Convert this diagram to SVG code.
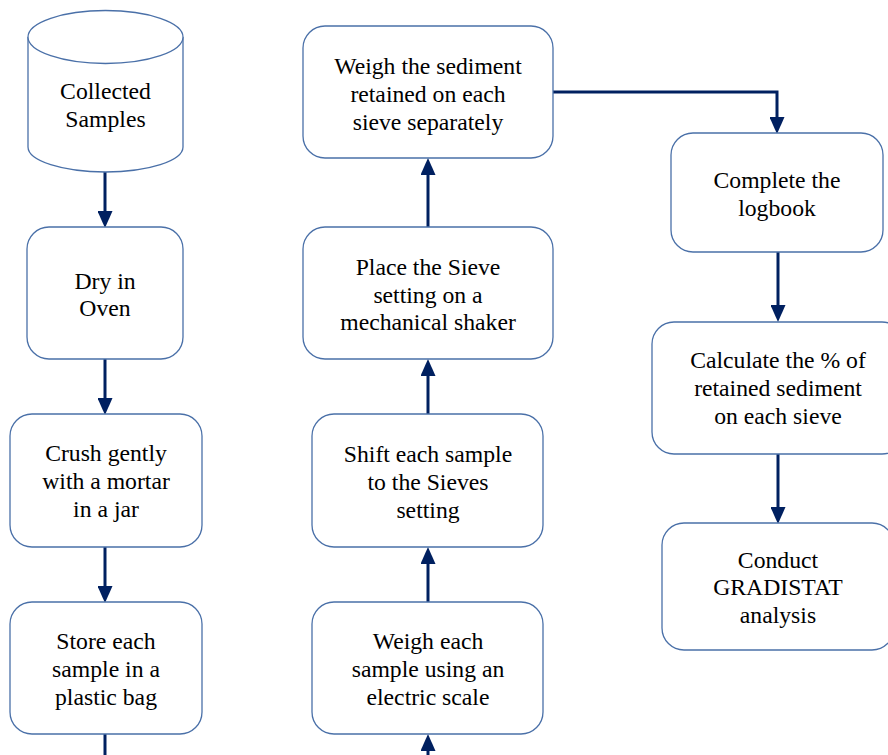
<svg xmlns="http://www.w3.org/2000/svg" width="888" height="755" viewBox="0 0 888 755">
<defs>
<style>
.n{fill:#fff;stroke:#4a70a8;stroke-width:1.3}
.t{font-family:'Liberation Serif','Times New Roman','DejaVu Serif',serif;font-size:23.7px;fill:#000;text-anchor:middle}
.c{fill:none;stroke:#002060;stroke-width:3}
</style>
<marker id="ah" markerUnits="userSpaceOnUse" markerWidth="17" markerHeight="15" refX="6" refY="7.5" orient="auto" viewBox="0 0 17 15">
<path d="M0,0 L17,7.5 L0,15 z" fill="#002060"/>
</marker>
</defs>
<rect width="888" height="755" fill="#fff"/>
<g id="connectors">
<line class="c" x1="105" y1="172" x2="105" y2="217" marker-end="url(#ah)"/>
<line class="c" x1="105" y1="359" x2="105" y2="404" marker-end="url(#ah)"/>
<line class="c" x1="105" y1="547" x2="105" y2="592" marker-end="url(#ah)"/>
<line class="c" x1="105" y1="734" x2="105" y2="760"/>
<line class="c" x1="428" y1="760" x2="428" y2="745" marker-end="url(#ah)"/>
<line class="c" x1="428" y1="602" x2="428" y2="558" marker-end="url(#ah)"/>
<line class="c" x1="428" y1="414" x2="428" y2="370" marker-end="url(#ah)"/>
<line class="c" x1="428" y1="227" x2="428" y2="169" marker-end="url(#ah)"/>
<polyline class="c" points="553,92 777,92 777,123" marker-end="url(#ah)"/>
<line class="c" x1="778" y1="252" x2="778" y2="311" marker-end="url(#ah)"/>
<line class="c" x1="778" y1="454" x2="778" y2="513" marker-end="url(#ah)"/>
</g>
<g font-family="Liberation Serif, Times New Roman, serif">
<g id="collected">
<path class="n" d="M28,37 A77.5,26.5 0 0 1 183,37 L183,147 A77.5,25 0 0 1 28,147 Z"/>
<path class="n" d="M28,37 A77.5,26.5 0 0 0 183,37" fill="none"/>
<text class="t" x="105.5" y="99">Collected</text>
<text class="t" x="105.5" y="127">Samples</text>
</g>
<g id="dry">
<rect class="n" x="27" y="227" width="156" height="132" rx="22"/>
<text class="t" x="105" y="289">Dry in</text>
<text class="t" x="105" y="316">Oven</text>
</g>
<g id="crush">
<rect class="n" x="10" y="414" width="192" height="133" rx="22"/>
<text class="t" x="106" y="461">Crush gently</text>
<text class="t" x="106" y="489">with a mortar</text>
<text class="t" x="106" y="517">in a jar</text>
</g>
<g id="store">
<rect class="n" x="10" y="602" width="192" height="132" rx="22"/>
<text class="t" x="106" y="649">Store each</text>
<text class="t" x="106" y="677">sample in a</text>
<text class="t" x="106" y="705">plastic bag</text>
</g>
<g id="weigh-each">
<rect class="n" x="312" y="602" width="231" height="132" rx="22"/>
<text class="t" x="428" y="649">Weigh each</text>
<text class="t" x="428" y="677">sample using an</text>
<text class="t" x="428" y="705">electric scale</text>
</g>
<g id="shift">
<rect class="n" x="312" y="414" width="231" height="133" rx="22"/>
<text class="t" x="428" y="462">Shift each sample</text>
<text class="t" x="428" y="490">to the Sieves</text>
<text class="t" x="428" y="518">setting</text>
</g>
<g id="place">
<rect class="n" x="303" y="227" width="250" height="132" rx="22"/>
<text class="t" x="428" y="275">Place the Sieve</text>
<text class="t" x="428" y="303">setting on a</text>
<text class="t" x="428" y="330">mechanical shaker</text>
</g>
<g id="weigh-sediment">
<rect class="n" x="303" y="26" width="250" height="132" rx="22"/>
<text class="t" x="428" y="74">Weigh the sediment</text>
<text class="t" x="428" y="102">retained on each</text>
<text class="t" x="428" y="130">sieve separately</text>
</g>
<g id="logbook">
<rect class="n" x="671" y="133" width="212" height="119" rx="22"/>
<text class="t" x="777" y="188">Complete the</text>
<text class="t" x="777" y="216">logbook</text>
</g>
<g id="calculate">
<rect class="n" x="652" y="322" width="252" height="132" rx="22"/>
<text class="t" x="778" y="368">Calculate the % of</text>
<text class="t" x="778" y="396">retained sediment</text>
<text class="t" x="778" y="424">on each sieve</text>
</g>
<g id="conduct">
<rect class="n" x="662" y="523" width="232" height="127" rx="22"/>
<text class="t" x="778" y="568">Conduct</text>
<text class="t" x="778" y="595">GRADISTAT</text>
<text class="t" x="778" y="623">analysis</text>
</g>
</g>
</svg>
